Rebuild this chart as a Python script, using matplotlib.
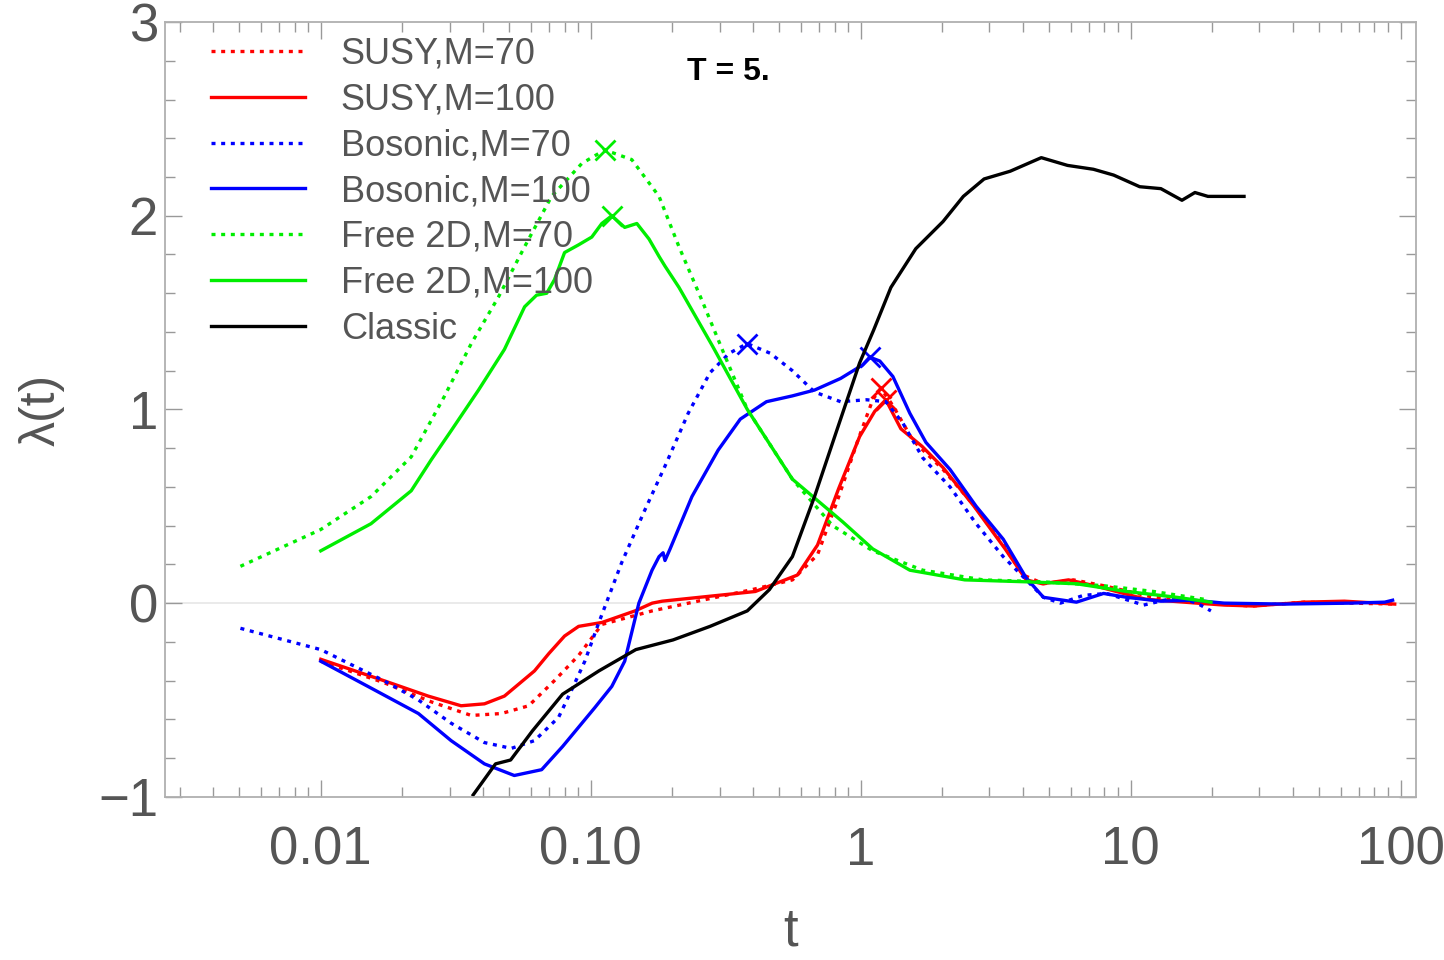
import numpy as np
import matplotlib
matplotlib.use("Agg")
import matplotlib.pyplot as plt
from matplotlib.ticker import FixedLocator, FixedFormatter, LogLocator, MultipleLocator, NullFormatter

plt.rcParams['font.family'] = ['Liberation Sans', 'DejaVu Sans']

# --- data (t, lambda(t)) ---
susy70_t = [0.01, 0.0171, 0.0257, 0.0361, 0.0467, 0.0589, 0.0734, 0.0902, 0.110, 0.169,
            0.259, 0.397, 0.559, 0.692, 0.820, 0.976, 1.108, 1.186, 1.316, 1.561,
            2.018, 2.608, 3.373, 4.000, 4.753, 6.138, 7.937, 12.18, 18.68, 27.92,
            43.97, 65.7, 95.1]
susy70_l = [-0.30, -0.41, -0.51, -0.58, -0.57, -0.53, -0.40, -0.27, -0.11, -0.04,
            0.015, 0.07, 0.12, 0.25, 0.53, 0.84, 1.05, 1.11, 1.02, 0.84,
            0.69, 0.51, 0.30, 0.145, 0.10, 0.12, 0.09, 0.03, 0.0, -0.015,
            0.005, 0.0, -0.005]

susy100_t = [0.01, 0.0171, 0.0250, 0.0331, 0.0404, 0.0479, 0.0619, 0.0700, 0.0800, 0.0902,
             0.110, 0.146, 0.169, 0.184, 0.407, 0.583, 0.692, 0.828, 0.991, 1.127,
             1.239, 1.409, 1.686, 2.018, 2.630, 3.428, 4.103, 4.710, 5.888, 7.341,
             11.37, 17.59, 22.18, 28.65, 43.97, 61.9, 95.1]
susy100_l = [-0.29, -0.40, -0.48, -0.53, -0.52, -0.48, -0.35, -0.26, -0.17, -0.12,
             -0.10, -0.04, 0.0, 0.01, 0.06, 0.145, 0.30, 0.59, 0.86, 0.99,
             1.05, 0.90, 0.81, 0.70, 0.50, 0.28, 0.12, 0.10, 0.12, 0.09,
             0.02, 0.0, -0.01, -0.015, 0.005, 0.01, -0.005]

bos70_t = [0.00504, 0.01, 0.0171, 0.0230, 0.0304, 0.0404, 0.0508, 0.0619, 0.0760, 0.0849,
           0.0951, 0.1072, 0.1303, 0.1574, 0.1902, 0.2296, 0.2767, 0.3259, 0.3802, 0.4624,
           0.5585, 0.6745, 0.8425, 1.052, 1.239, 1.432, 1.698, 2.143, 2.677, 3.373,
           4.103, 4.753, 5.495, 6.686, 8.14, 11.17, 14.84, 17.59, 19.83]
bos70_l = [-0.13, -0.24, -0.40, -0.50, -0.62, -0.72, -0.75, -0.71, -0.59, -0.45,
           -0.30, -0.10, 0.21, 0.47, 0.72, 0.98, 1.19, 1.29, 1.34, 1.29,
           1.20, 1.09, 1.04, 1.05, 1.04, 0.93, 0.75, 0.60, 0.41, 0.24,
           0.12, 0.03, 0.0, 0.04, 0.05, -0.01, 0.03, 0.0, -0.04]

bos100_t = [0.01, 0.01495, 0.0230, 0.0304, 0.0404, 0.0521, 0.0658, 0.0787, 0.1035, 0.1197,
            0.1336, 0.1508, 0.1687, 0.1791, 0.1854, 0.1884, 0.1968, 0.2371, 0.2965, 0.3581,
            0.4477, 0.5585, 0.6745, 0.8425, 1.017, 1.080, 1.177, 1.316, 1.521, 1.744,
            2.143, 2.677, 3.373, 4.103, 4.753, 6.298, 7.937, 9.665, 12.94, 17.14,
            22.18, 37.05, 65.7, 87.3, 93.4]
bos100_l = [-0.30, -0.43, -0.57, -0.71, -0.83, -0.89, -0.86, -0.74, -0.54, -0.43,
            -0.30, 0.0, 0.17, 0.24, 0.26, 0.22, 0.28, 0.55, 0.79, 0.95,
            1.04, 1.07, 1.10, 1.16, 1.23, 1.27, 1.25, 1.17, 0.98, 0.83,
            0.69, 0.50, 0.33, 0.13, 0.03, 0.005, 0.05, 0.03, 0.01, 0.015,
            0.0, -0.005, 0.0, 0.005, 0.015]

free70_t = [0.00504, 0.01, 0.01535, 0.02163, 0.02864, 0.0361, 0.0455, 0.0569, 0.0716, 0.0927,
            0.1127, 0.1419, 0.1791, 0.2123, 0.2588, 0.3069, 0.3802, 0.5585, 0.787, 1.108,
            1.698, 2.844, 4.753, 7.937, 12.18, 18.68]
free70_l = [0.19, 0.38, 0.55, 0.755, 1.065, 1.34, 1.58, 1.84, 2.10, 2.27,
            2.34, 2.29, 2.10, 1.84, 1.56, 1.31, 1.0, 0.64, 0.40, 0.27,
            0.17, 0.12, 0.11, 0.09, 0.06, 0.02]

free100_t = [0.01, 0.01535, 0.02163, 0.02566, 0.0304, 0.0384, 0.0479, 0.0569, 0.0630, 0.0687,
             0.0734, 0.0800, 0.0902, 0.1009, 0.1099, 0.1197, 0.1336, 0.1482, 0.1644, 0.1791,
             0.1884, 0.2123, 0.2818, 0.3802, 0.5585, 0.857, 1.108, 1.521, 2.43, 4.103,
             6.298, 9.665, 14.84, 19.83]
free100_l = [0.27, 0.41, 0.58, 0.74, 0.89, 1.10, 1.31, 1.53, 1.59, 1.60,
             1.67, 1.81, 1.85, 1.89, 1.96, 2.00, 1.94, 1.96, 1.88, 1.79,
             1.74, 1.63, 1.33, 1.0, 0.64, 0.42, 0.28, 0.17, 0.12, 0.11,
             0.10, 0.06, 0.03, 0.005]

classic_t = [0.0367, 0.0444, 0.0505, 0.0608, 0.0787, 0.1072, 0.1469, 0.2018, 0.2767, 0.3802,
             0.4592, 0.5585, 0.6745, 0.8147, 0.9907, 1.117, 1.294, 1.60, 2.018, 2.40,
             2.865, 3.580, 4.667, 5.836, 7.280, 8.650, 10.80, 12.94, 15.49, 17.30,
             19.33, 26.30]
classic_l = [-0.99, -0.83, -0.81, -0.66, -0.47, -0.35, -0.24, -0.19, -0.12, -0.04,
             0.07, 0.24, 0.55, 0.89, 1.24, 1.41, 1.63, 1.83, 1.97, 2.10,
             2.19, 2.23, 2.30, 2.26, 2.24, 2.21, 2.15, 2.14, 2.08, 2.12,
             2.10, 2.10]

xtick_vals = [0.01, 0.1, 1, 10, 100]
xtick_labels = ['0.01', '0.10', '1', '10', '100']
ytick_vals = [-1, 0, 1, 2, 3]
ytick_labels = ['\u22121', '0', '1', '2', '3']

RED, BLUE, GREEN = '#ff0000', '#0000ff', '#00ee00'
TXT = '#555555'
DOT = (0, (1.2, 1.7))

series = [
    (susy70_t, susy70_l, RED, DOT, 'SUSY,M=70', True),
    (susy100_t, susy100_l, RED, '-', 'SUSY,M=100', True),
    (bos70_t, bos70_l, BLUE, DOT, 'Bosonic,M=70', True),
    (bos100_t, bos100_l, BLUE, '-', 'Bosonic,M=100', True),
    (free70_t, free70_l, GREEN, DOT, 'Free 2D,M=70', True),
    (free100_t, free100_l, GREEN, '-', 'Free 2D,M=100', True),
    (classic_t, classic_l, 'black', '-', 'Classic', False),
]

fig = plt.figure(figsize=(14.44, 9.6), dpi=100)
ax = fig.add_axes([0.1143, 0.170, 0.8663, 0.807])

ax.axhline(0, color='#e6e6e6', lw=1.2, zorder=0)

for t, l, c, ls, lab, peak in series:
    ax.plot(t, l, color=c, ls=ls, lw=2.4, label=lab, dash_capstyle='butt')
    if peak:
        i = int(np.argmax(l))
        ax.plot(t[i], l[i], marker='x', color=c, ms=15, mew=2, ls='none')

ax.set_xscale('log')
ax.set_xlim(0.00265, 114)
ax.set_ylim(-1, 3)

ax.xaxis.set_major_locator(FixedLocator(xtick_vals))
ax.xaxis.set_major_formatter(FixedFormatter(xtick_labels))
ax.xaxis.set_minor_locator(LogLocator(base=10, subs=np.arange(2, 10)))
ax.xaxis.set_minor_formatter(NullFormatter())
ax.yaxis.set_major_locator(FixedLocator(ytick_vals))
ax.yaxis.set_major_formatter(FixedFormatter(ytick_labels))
ax.yaxis.set_minor_locator(MultipleLocator(0.2))

ax.tick_params(which='both', direction='in', top=True, right=True, color='#999999',
               labelcolor=TXT, labelsize=38)
ax.tick_params(which='major', length=12, width=1)
ax.tick_params(which='minor', length=7, width=1)
ax.tick_params(axis='x', pad=21)
ax.tick_params(axis='y', pad=5)

for s in ax.spines.values():
    s.set_color('#b0b0b0')
    s.set_linewidth(1.3)

ax.set_xlabel('t', fontsize=38, color=TXT, labelpad=22)
ax.set_ylabel('\u03bb(t)', fontsize=36, color=TXT, labelpad=24)

ax.text(0.45, 0.935, 'T = 5.', transform=ax.transAxes, ha='center', va='center',
        fontsize=23, fontweight='bold', color='black')

ax.legend(loc='upper left', bbox_to_anchor=(0.025, 1.0), frameon=False, fontsize=26,
          handlelength=2.6, handletextpad=1.0, labelspacing=0.3, borderaxespad=0,
          labelcolor=TXT)

fig.savefig('out.png', dpi=100)
